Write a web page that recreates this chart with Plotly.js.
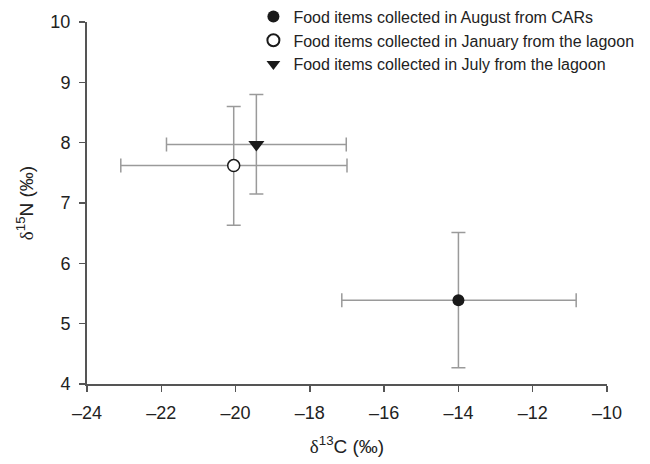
<!DOCTYPE html>
<html>
<head>
<meta charset="utf-8">
<script src="https://cdn.plot.ly/plotly-3.0.1.min.js"></script>
<style>html,body{margin:0;padding:0;background:#fff;}#chart{width:650px;height:464px;}</style>
</head>
<body>
<div id="chart"></div>
<script>
// Data
const seriesNames = [
  "Food items collected in August from CARs",
  "Food items collected in January from the lagoon",
  "Food items collected in July from the lagoon"
];
const d13C = [-14.0, -20.05, -19.44];
const d15N = [5.39, 7.62, 7.97];
const d13C_errPlus = [3.17, 3.05, 2.42];
const d13C_errMinus = [3.14, 3.04, 2.42];
const d15N_errPlus = [1.12, 0.98, 0.83];
const d15N_errMinus = [1.12, 0.99, 0.82];
const xTicks = [-24, -22, -20, -18, -16, -14, -12, -10];
const yTicks = [4, 5, 6, 7, 8, 9, 10];

const symbols = ["circle", "circle", "triangle-down"];
const fills = ["#1a1a1a", "#ffffff", "#1a1a1a"];
const errColor = "#9a9a9a";

const traces = seriesNames.map((name, i) => ({
  type: "scatter",
  mode: "markers",
  name: name,
  x: [d13C[i]],
  y: [d15N[i]],
  marker: {
    symbol: symbols[i],
    size: i === 2 ? 14 : 12,
    color: fills[i],
    line: {color: "#1a1a1a", width: i === 1 ? 1.5 : 0}
  },
  error_x: {type: "data", symmetric: false, array: [d13C_errPlus[i]], arrayminus: [d13C_errMinus[i]], color: errColor, thickness: 1.5, width: 7},
  error_y: {type: "data", symmetric: false, array: [d15N_errPlus[i]], arrayminus: [d15N_errMinus[i]], color: errColor, thickness: 1.5, width: 7}
}));

const layout = {
  width: 650, height: 464,
  margin: {l: 87, r: 43, t: 22, b: 80, autoexpand: false},
  paper_bgcolor: "#fff", plot_bgcolor: "#fff",
  font: {family: "Liberation Sans, Arial, sans-serif", color: "#222"},
  showlegend: true,
  legend: {
    x: 0.32, y: 1.062, xanchor: "left", yanchor: "top",
    font: {size: 16, color: "#222"},
    bgcolor: "rgba(0,0,0,0)",
    tracegroupgap: 0,
    itemsizing: "constant"
  },
  xaxis: {
    range: [-24, -10],
    tickvals: xTicks,
    ticktext: xTicks.map(v => v < 0 ? "\u2013" + Math.abs(v) : String(v)),
    showgrid: false, zeroline: false,
    showline: true, linecolor: "#555", linewidth: 2,
    ticks: "outside", ticklen: 6, tickwidth: 1.5, tickcolor: "#555",
    ticklabelstandoff: 5,
    tickfont: {size: 18, color: "#222"},
    title: {text: "<span style='font-family:Liberation Serif'>δ</span><sup>13</sup>C (‰)", font: {size: 19, color: "#222"}, standoff: 18}
  },
  yaxis: {
    range: [4, 10],
    tickvals: yTicks,
    showgrid: false, zeroline: false,
    showline: true, linecolor: "#555", linewidth: 2,
    ticks: "outside", ticklen: 6, tickwidth: 1.5, tickcolor: "#555",
    ticklabelstandoff: 5,
    tickfont: {size: 18, color: "#222"},
    title: {text: "<span style='font-family:Liberation Serif'>δ</span><sup>15</sup>N (‰)", font: {size: 19, color: "#222"}, standoff: 12}
  }
};

Plotly.newPlot("chart", traces, layout, {displayModeBar: false, staticPlot: true});
</script>
</body>
</html>
